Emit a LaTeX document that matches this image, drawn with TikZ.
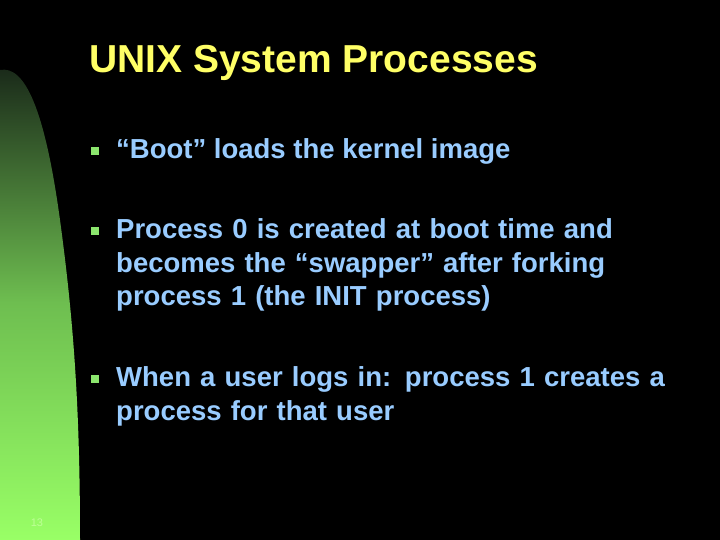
\documentclass[tikz,border=0pt]{standalone}
\usepackage{fontspec}
\setmainfont{Liberation Sans}
\begin{document}
\begin{tikzpicture}[x=1pt,y=-1pt,
  body/.style={inner sep=0pt,text=bodyc,font=\fontsize{27.5}{33.5}\selectfont\bfseries},
  bul/.style={fill=bulc,minimum size=8pt,inner sep=0pt}]
\definecolor{bodyc}{RGB}{153,204,255}
\definecolor{bulc}{RGB}{140,230,110}
\definecolor{titc}{RGB}{255,255,102}
\fill[black] (0,0) rectangle (720,540);
\useasboundingbox (0,0) rectangle (720,540);
\shade[top color={rgb,255:red,25;green,40;blue,25}, bottom color={rgb,255:red,153;green,255;blue,102}, middle color={rgb,255:red,110;green,190;blue,80}]
  (0,540) -- (0,70) .. controls (25,65) and (45,110) .. (60,220) .. controls (75,330) and (80,420) .. (80,540) -- cycle;
\node[anchor=base west,inner sep=0pt,text=titc,font=\fontsize{39}{44}\selectfont\bfseries] (title) at (89,73) {UNIX System Processes};
\node[bul] (b1) at (95,151) {};
\node[body,anchor=base west] (t1) at (116,159) {“Boot” loads the kernel image};
\node[bul] (b2) at (95,231) {};
\node[body,align=left,text width=600pt,anchor=north west] (t2) at (116,218.5) {Process 0 is created at boot time and\\becomes the “swapper” after forking\\process 1 (the INIT process)};
\node[bul] (b3) at (95,379) {};
\node[body,align=left,text width=600pt,anchor=north west] (t3) at (116,366.5) {When a user logs in: process 1 creates a\\process for that user};
\node[anchor=base,inner sep=0pt,text={rgb,255:red,190;green,255;blue,150},font=\fontsize{11}{12}\selectfont] (num) at (37,526) {13};
\end{tikzpicture}
\end{document}
